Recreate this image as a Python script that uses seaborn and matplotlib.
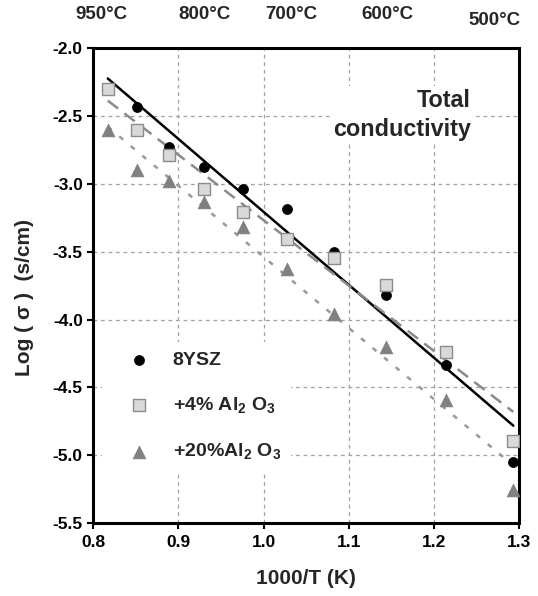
import numpy as np
import pandas as pd
import seaborn as sns
import matplotlib.pyplot as plt
import matplotlib.transforms as mtransforms

# 1000/T values (K^-1 x1000) and log conductivities
inv_T = [0.817, 0.851, 0.889, 0.930, 0.976, 1.027, 1.083, 1.144, 1.214, 1.293]
ysz = [-2.30, -2.436, -2.731, -2.874, -3.034, -3.187, -3.502, -3.822, -4.334, -5.053]
al4 = [-2.303, -2.600, -2.788, -3.040, -3.207, -3.403, -3.544, -3.748, -4.236, -4.893]
al20 = [-2.600, -2.899, -2.978, -3.133, -3.318, -3.625, -3.957, -4.204, -4.592, -5.257]

labels = ['8YSZ', r'+4% Al$_\mathbf{2}$ O$_\mathbf{3}$', r'+20%Al$_\mathbf{2}$ O$_\mathbf{3}$']
temp_labels = ['950°C', '800°C', '700°C', '600°C', '500°C']
temp_pos = [0.810, 0.930, 1.033, 1.145, 1.271]
x_ticks = [0.8, 0.9, 1.0, 1.1, 1.2, 1.3]
y_ticks = [-2.0, -2.5, -3.0, -3.5, -4.0, -4.5, -5.0, -5.5]

sns.set_style('white')
plt.rcParams['font.family'] = ['Liberation Sans', 'DejaVu Sans']
plt.rcParams['font.weight'] = 'bold'
plt.rcParams['mathtext.fontset'] = 'custom'
plt.rcParams['mathtext.bf'] = 'Liberation Sans:bold'
plt.rcParams['mathtext.rm'] = 'Liberation Sans:bold'

df = pd.DataFrame({'x': inv_T, 'ysz': ysz, 'al4': al4, 'al20': al20})

fig = plt.figure(figsize=(5.38, 5.96), dpi=100)
ax = fig.add_axes([0.1734, 0.1225, 0.7918, 0.7965])

# trend lines
lw = 1.8
sns.regplot(data=df, x='x', y='ysz', ax=ax, scatter=False, ci=None, truncate=True,
            line_kws=dict(color='black', lw=lw, zorder=2))
sns.regplot(data=df, x='x', y='al4', ax=ax, scatter=False, ci=None, truncate=True,
            line_kws=dict(color='#8a8a8a', lw=lw, ls=(0, (5.2, 3.2)), zorder=2))
sns.regplot(data=df, x='x', y='al20', ax=ax, scatter=False, ci=None, truncate=True,
            line_kws=dict(color='#9a9a9a', lw=lw, ls=(0, (2, 4)), zorder=2))

# markers
sns.scatterplot(data=df, x='x', y='ysz', ax=ax, marker='o', s=52, color='black',
                edgecolor='black', linewidth=0.5, label=labels[0], zorder=4)
sns.scatterplot(data=df, x='x', y='al4', ax=ax, marker='s', s=72, color='#d9d9d9',
                edgecolor='#8c8c8c', linewidth=1.0, label=labels[1], zorder=5)
sns.scatterplot(data=df, x='x', y='al20', ax=ax, marker='^', s=85, color='#808080',
                edgecolor='#808080', linewidth=0.5, label=labels[2], zorder=6)

ax.set_xlim(0.8, 1.3)
ax.set_ylim(-5.5, -2.0)
ax.set_xticks(x_ticks)
ax.set_yticks(y_ticks)
ax.set_xticklabels([f'{v:.1f}' for v in x_ticks])
ax.set_yticklabels([f'{v:.1f}' for v in y_ticks])
ax.tick_params(axis='both', labelsize=12.5, direction='out', length=4, width=1.5,
               colors='black', left=True, bottom=True)
ax.tick_params(axis='y', pad=3.5)
ax.tick_params(axis='x', pad=4.5)
for lab in ax.get_xticklabels() + ax.get_yticklabels():
    lab.set_fontweight('bold')

ax.grid(True, color='#a0a0a0', lw=0.9, ls=(0, (3, 3)))
for sp in ax.spines.values():
    sp.set_linewidth(2.2)
    sp.set_color('black')

ax.set_xlabel('1000/T (K)', fontsize=15, fontweight='bold')
ax.set_ylabel('Log ( σ )  (s/cm)', fontsize=15, fontweight='bold')
ax.xaxis.set_label_coords(0.5, -0.097)
ax.yaxis.set_label_coords(-0.14, 0.476)

leg = ax.legend(loc='upper left', bbox_to_anchor=(0.02, 0.382), borderaxespad=0,
                frameon=True, facecolor='white', edgecolor='none', framealpha=1,
                prop=dict(size=14, weight='bold'), handlelength=2.8,
                handletextpad=0.35, labelspacing=1.36, borderpad=0.5)
leg.set_zorder(7)

ax.text(1.2433, -2.493, 'Total\nconductivity', ha='right', va='center',
        multialignment='right', fontsize=16.8, fontweight='bold', linespacing=1.35,
        zorder=7, bbox=dict(facecolor='white', edgecolor='none', pad=2))

trans = mtransforms.blended_transform_factory(ax.transData, fig.transFigure)
for i, (t, xp) in enumerate(zip(temp_labels, temp_pos)):
    yy = 0.966 if i == len(temp_labels) - 1 else 0.9765
    ax.text(xp, yy, t, transform=trans, ha='center', va='center',
            fontsize=13.5, fontweight='bold')

fig.savefig('out.png', dpi=100)
